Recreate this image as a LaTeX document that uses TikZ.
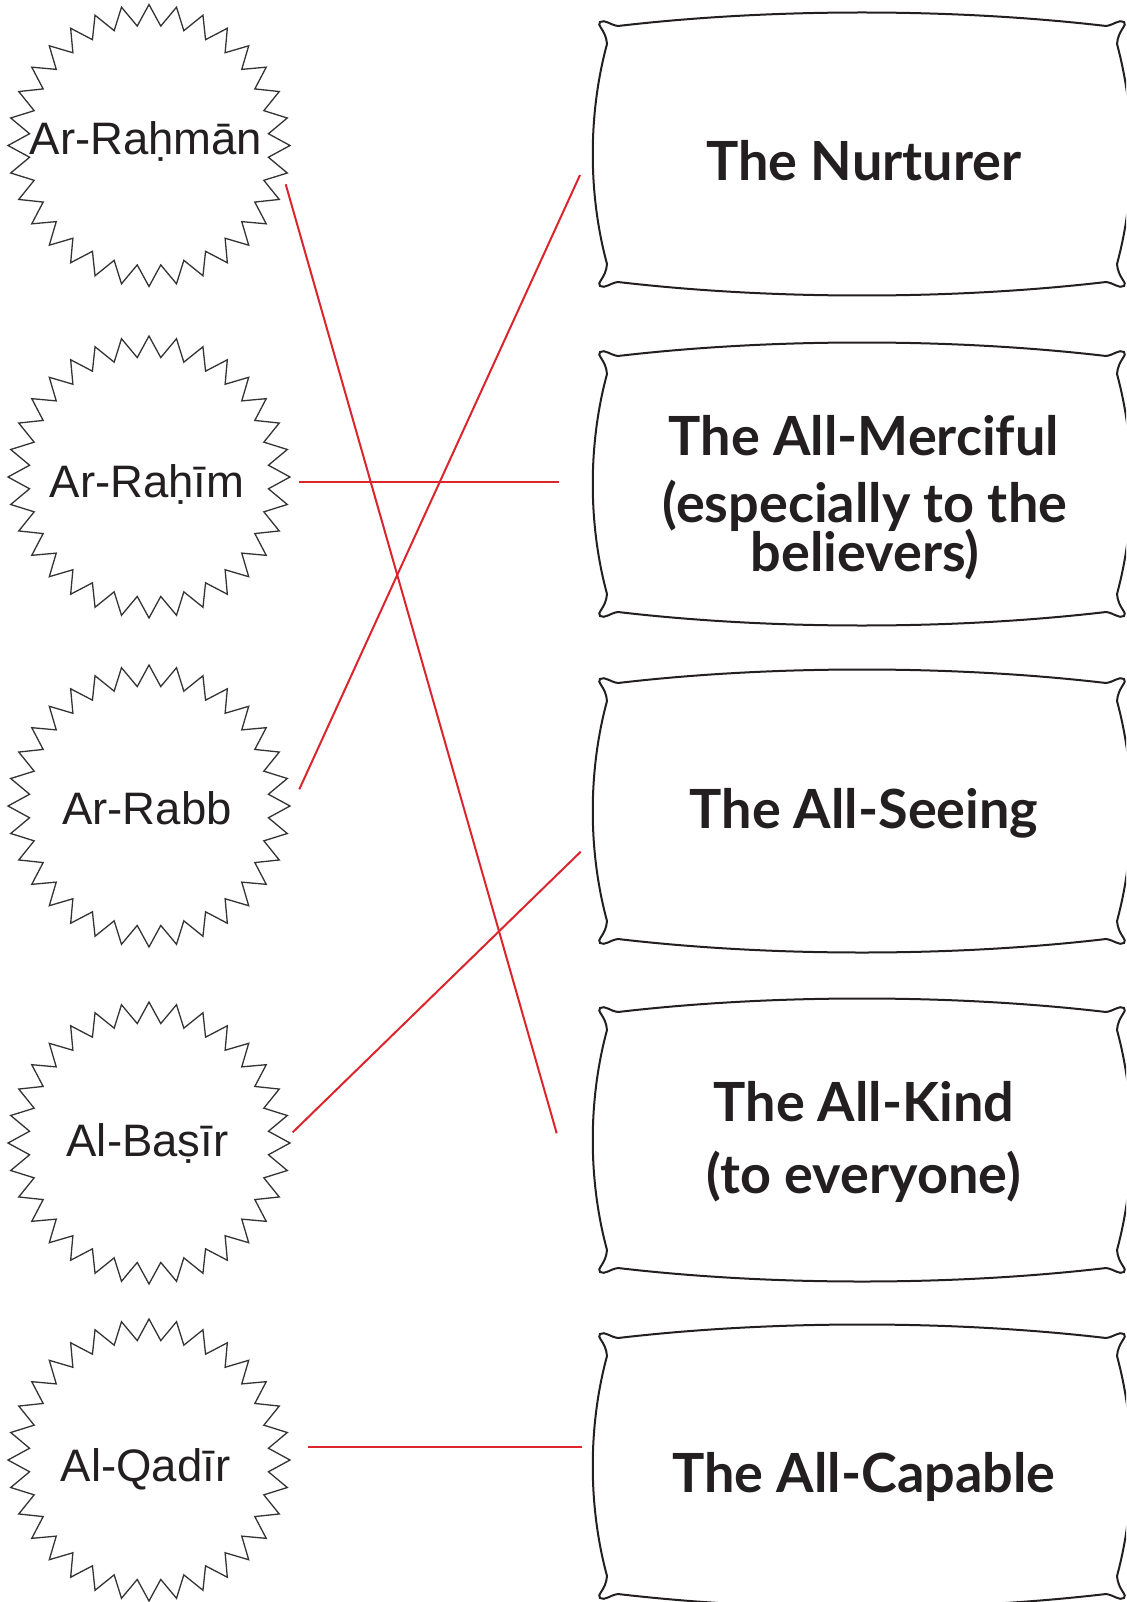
\documentclass[tikz,border=0pt]{standalone}
\usepackage{fontspec}
\setmainfont{Liberation Sans}
\newfontfamily\pillowfont{Lato}
\usetikzlibrary{calc}

\definecolor{ink}{HTML}{231F20}
\definecolor{linkred}{RGB}{218,37,45}
\definecolor{burstgray}{HTML}{333333}

\tikzset{
  burst/.style={draw=burstgray, line width=1.3pt, line join=miter},
  pillow/.style={draw=ink, line width=2pt},
  link/.style={draw=linkred, line width=2pt},
  hub/.style={inner sep=0pt, outer sep=0pt, minimum size=0pt},
  namelbl/.style={anchor=base, inner sep=0pt, text=ink,
    font=\fontsize{45.5}{52}\selectfont},
  boxlbl/.style={anchor=base, inner sep=0pt, text=ink,
    font=\pillowfont\bfseries\fontsize{54}{64}\selectfont},
}

% 32-point starburst around a named node
\newcommand\drawburst[1]{%
  \draw[burst, shift={(#1.center)}] (0:141)
    \foreach \i in {0,...,31}{ -- ({\i*11.25+5.625}:120) -- ({(\i+1)*11.25}:141)} -- cycle;}

% pillow-shaped frame with curled corners around a named node
\newcommand\drawpillow[1]{%
  \draw[pillow, shift={(#1.center)}]
    (-244,-128) .. controls (-90,-146) and (90,-146) .. (244,-128)
    .. controls (252,-129) and (257,-135) .. (262,-132)
    .. controls (266,-129) and (256,-124) .. (255,-110)
    .. controls (274,-40) and (274,40) .. (255,110)
    .. controls (256,124) and (266,129) .. (262,132)
    .. controls (257,135) and (252,129) .. (244,128)
    .. controls (90,146) and (-90,146) .. (-244,128)
    .. controls (-252,129) and (-257,135) .. (-262,132)
    .. controls (-266,129) and (-256,124) .. (-255,110)
    .. controls (-274,40) and (-274,-40) .. (-255,-110)
    .. controls (-256,-124) and (-266,-129) .. (-262,-132)
    .. controls (-257,-135) and (-252,-129) .. (-244,-128) -- cycle;}

\begin{document}
\begin{tikzpicture}[x=1pt, y=-1pt]
  \useasboundingbox (0,0) rectangle (1126,1602);
  \clip (0,0) rectangle (1126,1602);

  % names (left column)
  \node[hub] (rahman) at (149,145.5) {};
  \node[hub] (rahim)  at (149,477) {};
  \node[hub] (rabb)   at (149,806) {};
  \node[hub] (basir)  at (149,1143) {};
  \node[hub] (qadir)  at (149,1460) {};

  \drawburst{rahman}
  \drawburst{rahim}
  \drawburst{rabb}
  \drawburst{basir}
  \drawburst{qadir}

  \node[namelbl] (rahman-t) at (146,155)    {Ar-Raḥmān};
  \node[namelbl] (rahim-t)  at (147,497)    {Ar-Raḥīm};
  \node[namelbl] (rabb-t)   at (147,824)    {Ar-Rabb};
  \node[namelbl] (basir-t)  at (147.5,1156.7) {Al-Baṣīr};
  \node[namelbl] (qadir-t)  at (145.5,1481.7) {Al-Qadīr};

  % meanings (right column)
  \node[hub] (nurturer) at (862,154) {};
  \node[hub] (merciful) at (862,484) {};
  \node[hub] (seeing)   at (862,811) {};
  \node[hub] (kind)     at (862,1140) {};
  \node[hub] (capable)  at (862,1466) {};

  \drawpillow{nurturer}
  \drawpillow{merciful}
  \drawpillow{seeing}
  \drawpillow{kind}
  \drawpillow{capable}

  \node[boxlbl] (nurturer-t) at (864,181) {The Nurturer};
  \node[boxlbl] (merciful-t1) at (864,455) {The All-Merciful};
  \node[boxlbl] (merciful-t2) at (865,522) {(especially to the};
  \node[boxlbl] (merciful-t3) at (865,571) {believers)};
  \node[boxlbl] (seeing-t) at (864,828) {The All-Seeing};
  \node[boxlbl] (kind-t1) at (864,1121) {The All-Kind};
  \node[boxlbl] (kind-t2) at (864,1193) {(to everyone)};
  \node[boxlbl] (capable-t) at (864,1492) {The All-Capable};

  % matching lines
  \draw[link] ($(rahman)+(136.7,38.8)$) -- ($(kind)+(-305.3,-6.7)$);
  \draw[link] ($(rahim)+(150.3,5.3)$)   -- ($(merciful)+(-303.3,-1.7)$);
  \draw[link] ($(rabb)+(150.3,-16.7)$)  -- ($(nurturer)+(-282,21)$);
  \draw[link] ($(basir)+(143.7,-10.7)$) -- ($(seeing)+(-281.3,40.7)$);
  \draw[link] ($(qadir)+(159.3,-13.3)$) -- ($(capable)+(-280.3,-19.3)$);
\end{tikzpicture}
\end{document}
